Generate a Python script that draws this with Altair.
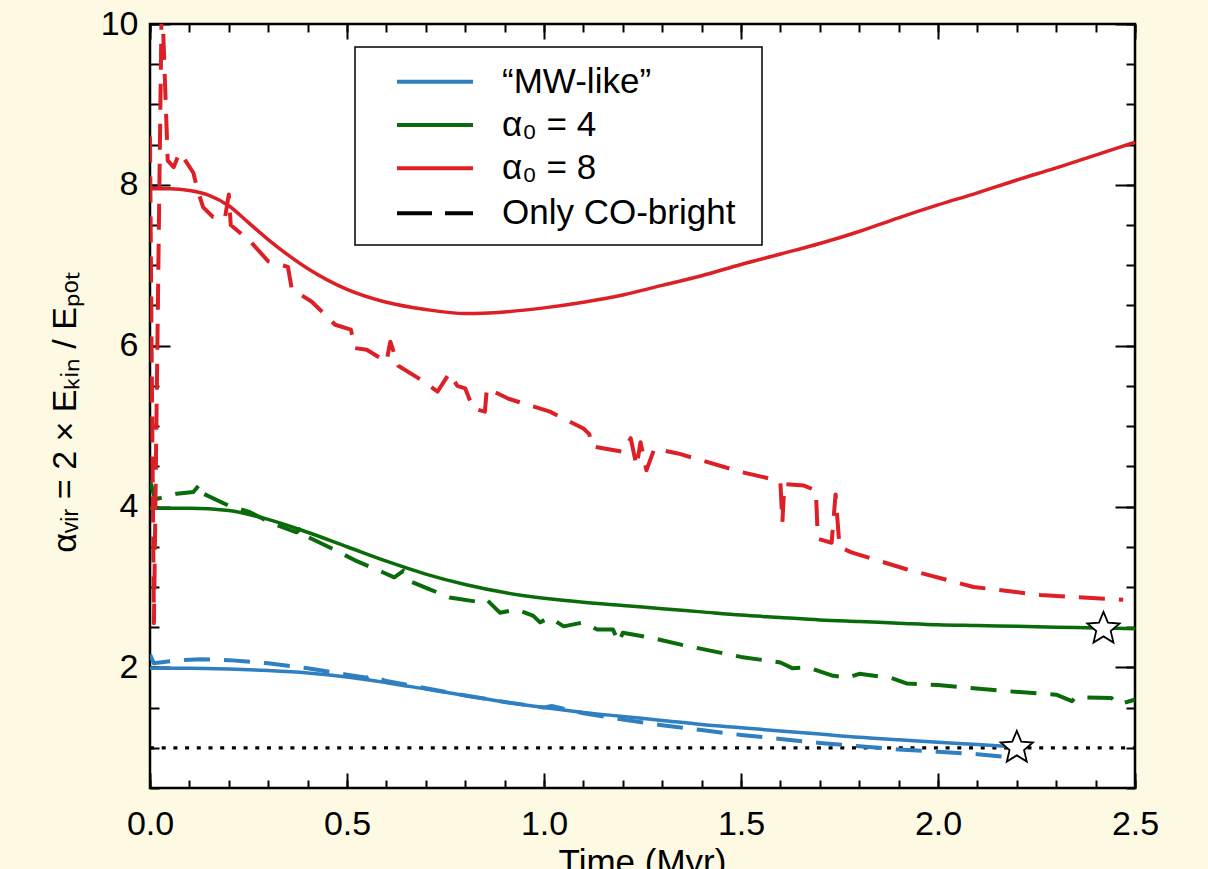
import altair as alt
import pandas as pd

FONT = "Liberation Sans"

# ---------------- data ----------------
# "MW-like" run: all gas (solid) and only CO-bright gas (dashed)
mw_all_t = [0.0, 0.1, 0.2, 0.3, 0.4, 0.5, 0.6, 0.7, 0.8, 0.9,
            1.0, 1.1, 1.2, 1.3, 1.4, 1.5, 1.6, 1.7, 1.8, 1.9,
            2.0, 2.1, 2.2]
mw_all_v = [1.99, 1.99, 1.98, 1.96, 1.93, 1.88, 1.81, 1.73, 1.65, 1.57,
            1.50, 1.44, 1.39, 1.34, 1.29, 1.25, 1.21, 1.17, 1.13, 1.10,
            1.07, 1.04, 1.01]
mw_co_t = [0.0, 0.01, 0.04, 0.08, 0.13, 0.2, 0.3, 0.4, 0.5, 0.55,
           0.56, 0.6, 0.7, 0.8, 0.9, 1.0, 1.02, 1.1, 1.2, 1.3,
           1.4, 1.5, 1.6, 1.7, 1.8, 1.9, 2.0, 2.1, 2.19]
mw_co_v = [2.16, 2.05, 2.07, 2.09, 2.10, 2.09, 2.05, 1.99, 1.91, 1.87,
           1.90, 1.83, 1.74, 1.65, 1.57, 1.50, 1.52, 1.43, 1.35, 1.28,
           1.22, 1.16, 1.11, 1.06, 1.02, 0.98, 0.95, 0.92, 0.88]

# alpha_0 = 4 run
a4_all_t = [0.0, 0.1, 0.2, 0.3, 0.4, 0.5, 0.6, 0.7, 0.8, 0.9,
            1.0, 1.1, 1.2, 1.3, 1.4, 1.5, 1.6, 1.7, 1.8, 1.9,
            2.0, 2.1, 2.2, 2.3, 2.4, 2.5]
a4_all_v = [3.98, 3.98, 3.95, 3.84, 3.68, 3.50, 3.32, 3.16, 3.03, 2.93,
            2.86, 2.81, 2.77, 2.73, 2.69, 2.65, 2.62, 2.59, 2.57, 2.55,
            2.53, 2.52, 2.51, 2.50, 2.49, 2.48]
a4_co_t = [0.0, 0.013, 0.068, 0.11, 0.127, 0.135, 0.2, 0.254, 0.305, 0.372,
           0.385, 0.397, 0.465, 0.525, 0.592, 0.62, 0.643, 0.66, 0.71, 0.76,
           0.838, 0.855, 0.888, 0.93, 0.973, 0.99, 1.015, 1.05, 1.1, 1.135,
           1.175, 1.19, 1.2, 1.27, 1.35, 1.5, 1.6, 1.63, 1.67, 1.73,
           1.77, 1.8, 1.88, 1.92, 2.0, 2.16, 2.3, 2.34, 2.35, 2.44,
           2.46, 2.5]
a4_co_v = [4.32, 4.09, 4.16, 4.18, 4.28, 4.16, 4.01, 3.93, 3.80, 3.68,
           3.74, 3.63, 3.47, 3.32, 3.18, 3.12, 3.20, 3.07, 2.97, 2.87,
           2.81, 2.84, 2.68, 2.72, 2.64, 2.56, 2.62, 2.51, 2.56, 2.47,
           2.47, 2.31, 2.43, 2.37, 2.28, 2.13, 2.06, 1.99, 2.00, 1.90,
           1.87, 1.92, 1.87, 1.80, 1.78, 1.71, 1.66, 1.58, 1.63, 1.62,
           1.54, 1.60]

# alpha_0 = 8 run
a8_all_t = [0.0, 0.05, 0.1, 0.15, 0.2, 0.25, 0.3, 0.4, 0.5, 0.6,
            0.7, 0.8, 0.9, 1.0, 1.1, 1.2, 1.3, 1.4, 1.5, 1.6,
            1.7, 1.8, 1.9, 2.0, 2.1, 2.2, 2.3, 2.4, 2.5]
a8_all_v = [7.95, 7.95, 7.93, 7.87, 7.74, 7.53, 7.32, 6.96, 6.70, 6.54,
            6.45, 6.40, 6.42, 6.47, 6.54, 6.63, 6.75, 6.87, 7.01, 7.14,
            7.27, 7.42, 7.59, 7.75, 7.90, 8.06, 8.21, 8.37, 8.53]
a8_co_t = [0.0, 0.004, 0.01, 0.02, 0.03, 0.045, 0.06, 0.075, 0.09, 0.11,
           0.12, 0.135, 0.16, 0.19, 0.2, 0.205, 0.254, 0.3, 0.35, 0.36,
           0.41, 0.47, 0.51, 0.52, 0.55, 0.6, 0.61, 0.63, 0.68, 0.73,
           0.76, 0.78, 0.8, 0.82, 0.85, 0.855, 0.91, 1.015, 1.1, 1.115,
           1.12, 1.2, 1.22, 1.235, 1.245, 1.26, 1.28, 1.34, 1.5, 1.58,
           1.6, 1.605, 1.61, 1.66, 1.69, 1.695, 1.73, 1.74, 1.75, 1.78,
           1.92, 2.09, 2.26, 2.47]
a8_co_v = [8.6, 6.0, 2.55, 6.5, 10.4, 8.3, 8.22, 8.4, 8.3, 8.15,
           7.95, 7.72, 7.6, 7.58, 7.88, 7.5, 7.3, 7.05, 6.98, 6.7,
           6.55, 6.26, 6.2, 5.97, 5.95, 5.8, 6.05, 5.75, 5.6, 5.43,
           5.66, 5.5, 5.47, 5.22, 5.18, 5.47, 5.34, 5.18, 4.97, 4.9,
           4.75, 4.68, 4.85, 4.5, 4.8, 4.45, 4.72, 4.66, 4.43, 4.34,
           4.3, 3.8, 4.28, 4.26, 4.2, 3.6, 3.55, 4.15, 3.5, 3.43,
           3.22, 3.0, 2.9, 2.84]

# alpha_vir = 1 reference line and end-of-run stars
ref_t = [0.0, 2.5]
ref_v = [1.0, 1.0]
star_t = [2.2, 2.42]
star_v = [1.0, 2.48]

series_names = ["mw", "a4", "a8"]
series_colors = ["#2f7fc1", "#0a6b0a", "#dd1f26"]
legend_labels = ["\u201cMW-like\u201d", "\u03b1\u2080 = 4", "\u03b1\u2080 = 8", "Only CO-bright"]
legend_colors = ["#2f7fc1", "#0a6b0a", "#dd1f26", "black"]

x_major = [0.0, 0.5, 1.0, 1.5, 2.0, 2.5]
x_minor = [round(0.1 * i, 1) for i in range(26)]
y_major = [2, 4, 6, 8, 10]
y_minor = [0.5 * i for i in range(1, 21)]

y_title = "\u03b1\u1d65\u1d62\u1d63 = 2 \u00d7 E\u2096\u1d62\u2099 / E\u209a\u2092\u209c"

# ---------------- tables ----------------
def tab(ts, vs, series, kind):
    return pd.DataFrame({"t": ts, "v": vs, "series": series, "kind": kind,
                         "idx": list(range(len(ts)))})

solid_df = pd.concat([tab(mw_all_t, mw_all_v, "mw", "all"),
                      tab(a4_all_t, a4_all_v, "a4", "all"),
                      tab(a8_all_t, a8_all_v, "a8", "all")], ignore_index=True)
dashed_df = pd.concat([tab(mw_co_t, mw_co_v, "mw", "co"),
                       tab(a4_co_t, a4_co_v, "a4", "co"),
                       tab(a8_co_t, a8_co_v, "a8", "co")], ignore_index=True)
ref_df = pd.DataFrame({"t": ref_t, "v": ref_v})
star_df = pd.DataFrame({"t": star_t, "v": star_v})
one = pd.DataFrame({"a": [0]})

W, H = 985, 764
x_scale = alt.Scale(domain=[0, 2.5], nice=False, zero=False)
y_scale = alt.Scale(domain=[0.5, 10], nice=False, zero=False)
color_scale = alt.Scale(domain=series_names, range=series_colors)

STAR = ("M0,-1L0.2645,-0.364L0.951,-0.309L0.428,0.139L0.588,0.809L0,0.45"
        "L-0.588,0.809L-0.428,0.139L-0.951,-0.309L-0.2645,-0.364Z")

solid = alt.Chart(solid_df).mark_line(strokeWidth=3.5, interpolate="monotone").encode(
    x=alt.X("t:Q", scale=x_scale, axis=None),
    y=alt.Y("v:Q", scale=y_scale, axis=None),
    color=alt.Color("series:N", scale=color_scale, legend=None),
    detail="series:N",
    order="idx:Q",
)
dashed = alt.Chart(dashed_df).mark_line(strokeWidth=4, strokeDash=[26, 14], clip=True,
                                         strokeJoin="round").encode(
    x=alt.X("t:Q", scale=x_scale, axis=None),
    y=alt.Y("v:Q", scale=y_scale, axis=None),
    color=alt.Color("series:N", scale=color_scale, legend=None),
    detail="series:N",
    order="idx:Q",
)
dotted = alt.Chart(ref_df).mark_line(color="black", strokeWidth=3.2, strokeDash=[4, 7.7]).encode(
    x=alt.X("t:Q", scale=x_scale, axis=None),
    y=alt.Y("v:Q", scale=y_scale, axis=None),
)
stars = alt.Chart(star_df).mark_point(shape=STAR, size=1150, filled=True, fill="white",
                                      stroke="black", strokeWidth=1.8, opacity=1,
                                      fillOpacity=1).encode(
    x=alt.X("t:Q", scale=x_scale, axis=None),
    y=alt.Y("v:Q", scale=y_scale, axis=None),
)

# ---------------- legend (box, samples, labels) ----------------
leg_box = alt.Chart(one).mark_rect(fill="white", stroke="black", strokeWidth=1.5).encode(
    x=alt.value(205), x2=alt.value(612), y=alt.value(23), y2=alt.value(221))
leg_layers = [leg_box]
row_y = [57.7, 101, 144.3, 189.3]
for i, (lab, col) in enumerate(zip(legend_labels, legend_colors)):
    dash = [35, 13] if i == 3 else [1, 0]
    leg_layers.append(alt.Chart(one).mark_rule(color=col, strokeWidth=4, strokeDash=dash).encode(
        x=alt.value(247), x2=alt.value(323), y=alt.value(row_y[i])))
    leg_layers.append(alt.Chart(one).mark_text(align="left", baseline="middle", fontSize=35,
                                               font=FONT, color="black").encode(
        x=alt.value(352), y=alt.value(row_y[i]), text=alt.value(lab)))

# ---------------- axes (labels + inward ticks on all four sides) ----------------
def carrier(xa, ya):
    return alt.Chart(ref_df).mark_point(opacity=0).encode(
        x=alt.X("t:Q", scale=x_scale, axis=xa),
        y=alt.Y("v:Q", scale=y_scale, axis=ya))

def tick_axis(orient, offset, values, size):
    return alt.Axis(orient=orient, offset=offset, values=values, tickSize=size,
                    tickWidth=2, tickColor="black", labels=False, domain=False,
                    grid=False, title=None)

x_lab = alt.Axis(orient="bottom", values=x_major, format=".1f", labelFontSize=34,
                 labelFont=FONT, labelColor="black", labelPadding=46,
                 labelBaseline="alphabetic", labelFlush=False, labelOverlap=False,
                 tickSize=0, domain=False, grid=False,
                 title="Time (Myr)", titleFont=FONT, titleFontSize=35,
                 titleFontWeight="normal", titleColor="black",
                 titleX=492, titleY=85, titleBaseline="alphabetic", titleAlign="center")
y_lab = alt.Axis(orient="left", values=y_major, format="d", labelFontSize=34,
                 labelFont=FONT, labelColor="black", labelPadding=12,
                 labelFlush=False, labelOverlap=False,
                 tickSize=0, domain=False, grid=False,
                 title=y_title, titleFont=FONT, titleFontSize=34,
                 titleFontWeight="normal", titleColor="black", titleAngle=270,
                 titleX=-75, titleY=388, titleBaseline="alphabetic", titleAlign="center")

axes_layers = [
    carrier(x_lab, y_lab),
    carrier(tick_axis("top", -H, x_major, 15), tick_axis("right", -W, y_major, 20)),
    carrier(tick_axis("top", -H, x_minor, 8), tick_axis("right", -W, y_minor, 9)),
    carrier(tick_axis("bottom", -H, x_major, 15), tick_axis("left", -W, y_major, 20)),
    carrier(tick_axis("bottom", -H, x_minor, 8), tick_axis("left", -W, y_minor, 9)),
]

chart = alt.layer(
    *axes_layers, dotted, solid, dashed, stars, *leg_layers
).resolve_axis(
    x="independent", y="independent"
).properties(
    width=W, height=H,
    autosize=alt.AutoSizeParams(type="none"),
    padding={"left": 150, "top": 24, "right": 73, "bottom": 81},
    background="#fdf9e3",
).configure_view(
    fill="white", stroke="black", strokeWidth=2.5
).configure_axis(
    grid=False
)

chart.save("out.html", embed_options={"renderer": "svg", "actions": False})
